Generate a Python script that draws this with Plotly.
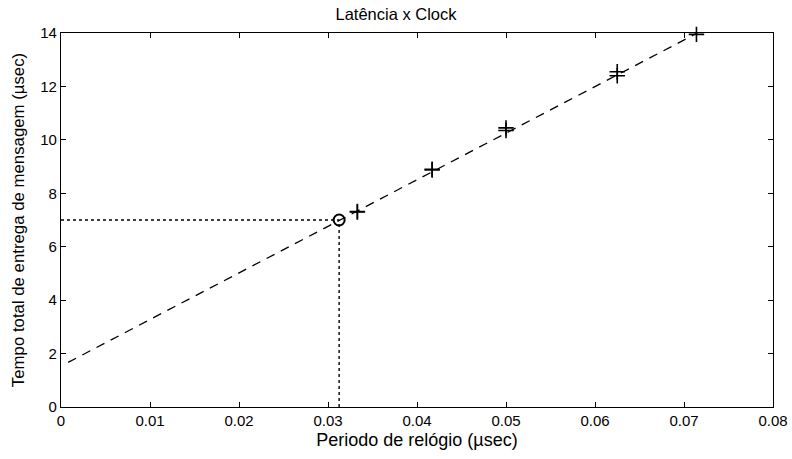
import plotly.graph_objects as go

# Data
fit_x = [0.0008, 0.0715]
fit_y = [1.67, 14.0]
meas_x = [0.0333, 0.0417, 0.0500, 0.0625, 0.0714]
meas_y1 = [7.30, 8.87, 10.35, 12.40, 13.95]
meas_y2 = [7.32, 8.90, 10.45, 12.55, 14.02]
sel_x = [0.03125]
sel_y = [7.0]
guide_h_x = [0.0, 0.03125]
guide_h_y = [7.0, 7.0]
guide_v_x = [0.03125, 0.03125]
guide_v_y = [0.0, 7.0]

x_ticks = [0, 0.01, 0.02, 0.03, 0.04, 0.05, 0.06, 0.07, 0.08]
x_tick_labels = ["0", "0.01", "0.02", "0.03", "0.04", "0.05", "0.06", "0.07", "0.08"]
y_ticks = [0, 2, 4, 6, 8, 10, 12, 14]

fig = go.Figure()
fig.add_trace(go.Scatter(x=fit_x, y=fit_y, mode="lines",
                         line=dict(color="black", width=1.3, dash="9px,7px"),
                         showlegend=False, cliponaxis=False))
fig.add_trace(go.Scatter(x=guide_h_x, y=guide_h_y, mode="lines",
                         line=dict(color="black", width=1.4, dash="dot"),
                         showlegend=False))
fig.add_trace(go.Scatter(x=guide_v_x, y=guide_v_y, mode="lines",
                         line=dict(color="black", width=1.4, dash="dot"),
                         showlegend=False))
for ys in (meas_y1, meas_y2):
    fig.add_trace(go.Scatter(x=meas_x, y=ys, mode="markers",
                             marker=dict(symbol="cross-thin", size=11, color="black",
                                         line=dict(color="black", width=1.6)),
                             showlegend=False, cliponaxis=False))
fig.add_trace(go.Scatter(x=sel_x, y=sel_y, mode="markers",
                         marker=dict(symbol="circle-open", size=11, color="black",
                                     line=dict(color="black", width=2)),
                         showlegend=False))

axis_common = dict(showline=True, linecolor="black", linewidth=1.3, mirror="ticks",
                   ticks="inside", ticklen=5, tickcolor="black", showgrid=False,
                   zeroline=False, automargin=False,
                   tickfont=dict(size=15, color="black"))
fig.update_xaxes(range=[0, 0.08], tickvals=x_ticks, ticktext=x_tick_labels,
                 title=dict(text="Periodo de relógio (µsec)", font=dict(size=18, color="black"),
                            standoff=5),
                 **axis_common)
fig.update_yaxes(range=[0, 14], tickvals=y_ticks,
                 title=dict(text="Tempo total de entrega de mensagem (µsec)",
                            font=dict(size=16.8, color="black"), standoff=11),
                 **axis_common)
fig.update_layout(
    width=792, height=459,
    margin=dict(l=61, r=19, t=33, b=52),
    paper_bgcolor="white", plot_bgcolor="white",
    font=dict(family="Liberation Sans, Arial, sans-serif", color="black"),
    title=dict(text="Latência x Clock", x=0.5, xanchor="center", y=0.9695, yanchor="middle",
               font=dict(size=16.5, color="black")),
)
fig.write_html("out.html")
